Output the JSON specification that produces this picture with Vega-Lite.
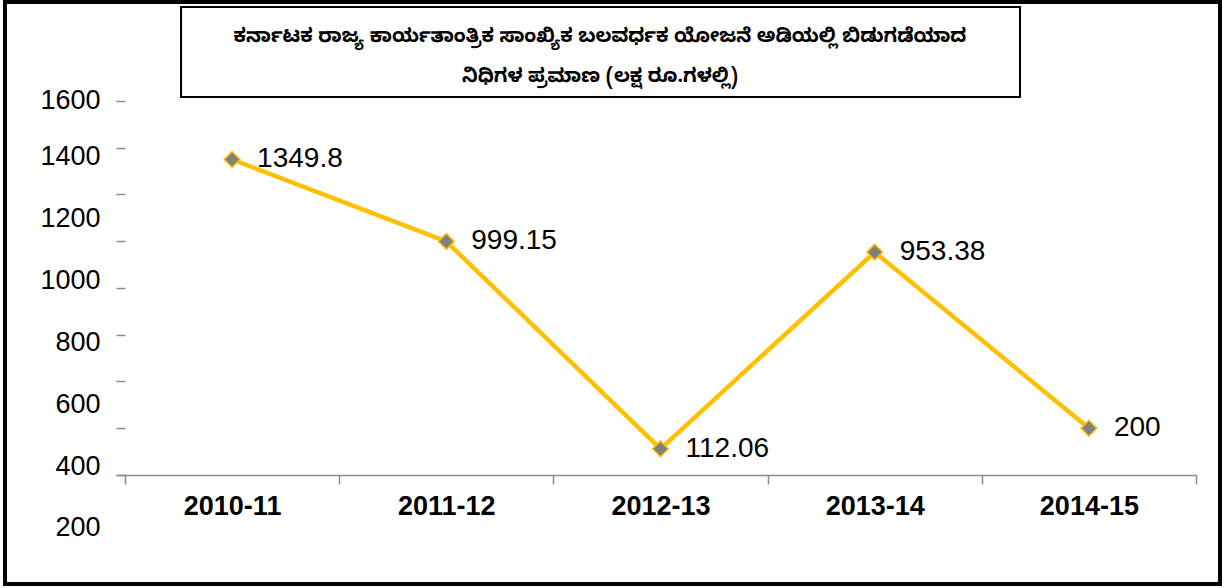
{
  "$schema": "https://vega.github.io/schema/vega-lite/v6.json",
  "width": 1227,
  "height": 588,
  "autosize": {"type": "fit", "contains": "padding"},
  "padding": {"left": 5, "right": 7, "top": 2, "bottom": 4},
  "background": "white",
  "config": {
    "view": {"stroke": "black", "strokeWidth": 4},
    "font": "Liberation Sans"
  },
  "datasets": {
    "main": [
      {"year": "2010-11", "value": 1349.8},
      {"year": "2011-12", "value": 999.15},
      {"year": "2012-13", "value": 112.06},
      {"year": "2013-14", "value": 953.38},
      {"year": "2014-15", "value": 200}
    ]
  },
  "resolve": {"scale": {"x": "independent", "y": "independent"}, "axis": {"x": "independent", "y": "independent"}},
  "layer": [
    {
      "data": {"name": "main"},
      "encoding": {
        "x": {
          "field": "year", "type": "ordinal",
          "scale": {"type": "band", "range": [111, 1191], "paddingInner": 0, "paddingOuter": 0.021, "align": 1},
          "axis": {
            "orient": "bottom", "offset": -109, "title": null, "tickBand": "extent",
            "tickSize": 9, "tickColor": "#8c8c8c", "tickWidth": 1.5,
            "domainColor": "#8c8c8c", "domainWidth": 1.5,
            "labelFont": "Liberation Sans", "labelFontSize": 27, "labelFontWeight": "bold",
            "labelColor": "black", "labelPadding": 9, "labelAngle": 0, "grid": false
          }
        },
        "y": {
          "field": "value", "type": "quantitative",
          "scale": {"domain": [-466.3, 2023.5], "nice": false, "zero": false},
          "axis": {
            "orient": "left", "offset": -120, "title": null,
            "values": [0, 200, 400, 600, 800, 1000, 1200, 1400, 1600],
            "labels": false, "domain": false, "grid": false,
            "tickSize": 9, "tickColor": "#8c8c8c", "tickWidth": 1.5
          }
        }
      },
      "layer": [
        {"mark": {"type": "line", "color": "#FFC000", "strokeWidth": 4.5}},
        {"mark": {"type": "point", "shape": "diamond", "filled": true, "fill": "#808080", "stroke": "#FFC000", "strokeWidth": 1.5, "size": 250, "opacity": 1}},
        {
          "mark": {"type": "text", "align": "left", "baseline": "middle", "dx": 25, "fontSize": 28, "font": "Liberation Sans", "color": "black"},
          "encoding": {"text": {"field": "value", "type": "nominal"}}
        }
      ]
    },
    {
      "data": {"name": "main"},
      "mark": {"type": "point", "opacity": 0},
      "encoding": {
        "y": {
          "field": "value", "type": "quantitative",
          "scale": {"domain": [19, 1900], "nice": false, "zero": false},
          "axis": {
            "orient": "left", "offset": -95, "title": null, "format": "d",
            "values": [200, 400, 600, 800, 1000, 1200, 1400, 1600],
            "ticks": false, "tickSize": 0, "domain": false, "grid": false,
            "labelPadding": 0, "labelFont": "Liberation Sans", "labelFontSize": 27,
            "labelColor": "black", "labelOverlap": false,
            "labelOffset": {"condition": {"test": "datum.value === 1600", "value": 6}, "value": 0}
          }
        }
      }
    },
    {
      "data": {"values": [{"title": "box"}]},
      "layer": [
        {
          "mark": {"type": "rect", "fill": "white", "stroke": "black", "strokeWidth": 2},
          "encoding": {
            "x": {"datum": 14.49, "type": "quantitative", "scale": {"domain": [0, 100], "nice": false, "zero": false}, "axis": null},
            "x2": {"datum": 83.54},
            "y": {"datum": 2002.1, "type": "quantitative", "scale": {"domain": [-466.3, 2023.5], "nice": false, "zero": false}, "axis": null},
            "y2": {"datum": 1617.1}
          }
        },
        {
          "mark": {
            "type": "text", "align": "center", "baseline": "middle",
            "fontSize": 19.5, "fontWeight": "bold", "lineHeight": 40, "color": "black",
            "font": "Noto Sans Kannada, Noto Sans, DejaVu Sans, Liberation Sans",
            "text": ["ಕರ್ನಾಟಕ ರಾಜ್ಯ ಕಾರ್ಯತಾಂತ್ರಿಕ ಸಾಂಖ್ಯಿಕ ಬಲವರ್ಧಕ ಯೋಜನೆ ಅಡಿಯಲ್ಲಿ  ಬಿಡುಗಡೆಯಾದ", "ನಿಧಿಗಳ ಪ್ರಮಾಣ (ಲಕ್ಷ  ರೂ.ಗಳಲ್ಲಿ)"]
          },
          "encoding": {
            "x": {"datum": 48.97, "type": "quantitative"},
            "y": {"datum": 1878.1, "type": "quantitative"}
          }
        }
      ]
    }
  ]
}
